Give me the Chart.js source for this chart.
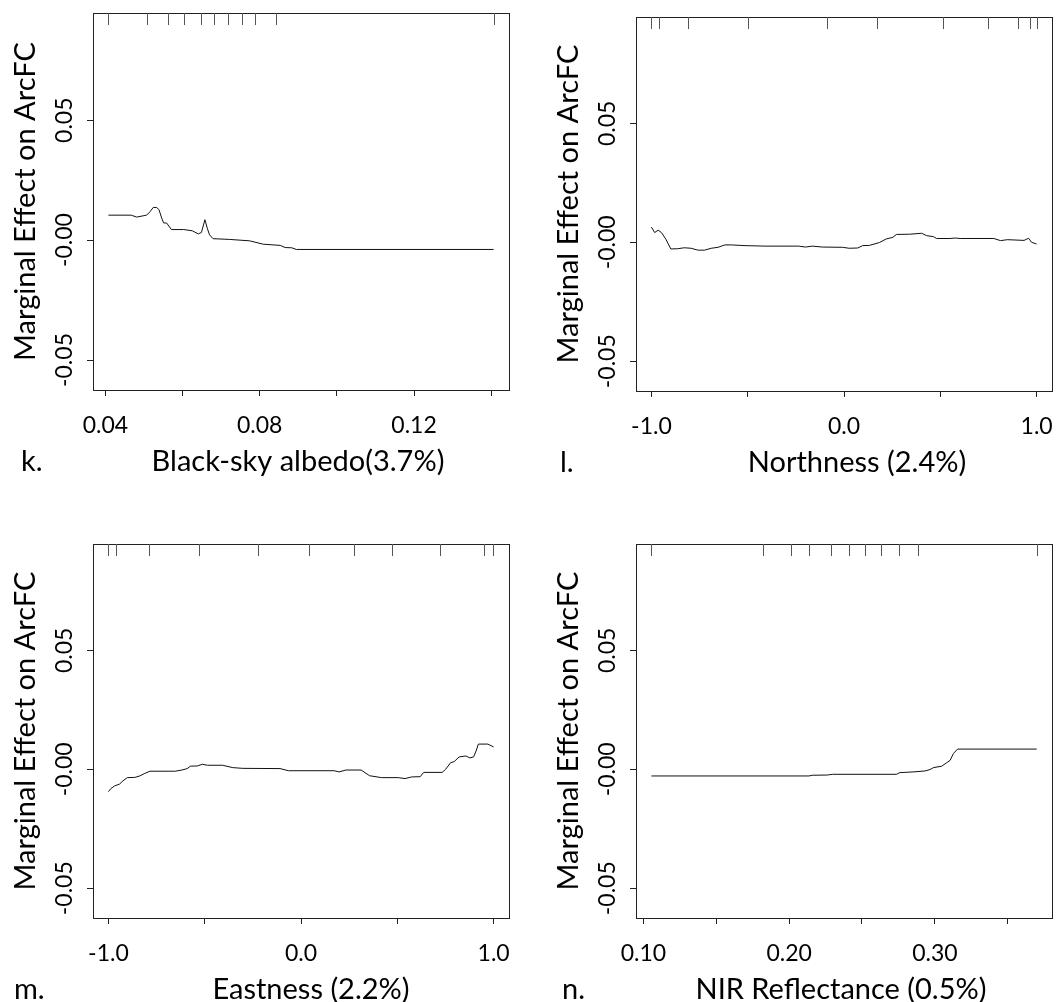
<!DOCTYPE html>
<html>
<head>
<meta charset="utf-8">
<script src="https://cdn.jsdelivr.net/npm/chart.js@4/dist/chart.umd.min.js"></script>
<style>
  html, body { margin: 0; padding: 0; background: #fff; }
  #wrap { position: relative; width: 1058px; height: 1002px; }
  #wrap canvas { position: absolute; left: 0; top: 0; }
</style>
</head>
<body>
<div id="wrap">
  <canvas id="k" width="1058" height="1002"></canvas>
  <canvas id="l" width="1058" height="1002"></canvas>
  <canvas id="m" width="1058" height="1002"></canvas>
  <canvas id="n" width="1058" height="1002"></canvas>
</div>
<script>
// shared y axis
const yTicks = [-0.05, 0, 0.05];
const yTickLabels = ["-0.05", "-0.00", "0.05"];
const yTitle = "Marginal Effect on ArcFC";

// k. black-sky albedo
const albedoX = [0.0408, 0.0467, 0.0481, 0.0507, 0.0516, 0.0524, 0.0533, 0.0539, 0.0546, 0.0551, 0.0559, 0.0571, 0.0603, 0.0625, 0.0641, 0.0649, 0.0658, 0.0664, 0.0670, 0.0679, 0.0721, 0.0774, 0.0809, 0.0853, 0.0866, 0.0883, 0.0895, 0.1406];
const albedoY = [0.0104, 0.0104, 0.0096, 0.0104, 0.0119, 0.0136, 0.0136, 0.0127, 0.0092, 0.0072, 0.0071, 0.0044, 0.0044, 0.0039, 0.0026, 0.0032, 0.0085, 0.0050, 0.0022, 0.0006, 0.0003, -0.0003, -0.0017, -0.0022, -0.0031, -0.0032, -0.0039, -0.0039];
const albedoRug = [0.0408, 0.0508, 0.0562, 0.0604, 0.0647, 0.0682, 0.0718, 0.0753, 0.0788, 0.0841, 0.1408];
const albedoTicks = [0.04, 0.06, 0.08, 0.10, 0.12, 0.14];
const albedoTickLabels = ["0.04", "", "0.08", "", "0.12", ""];

// l. northness
const northX = [-1.000, -0.983, -0.965, -0.948, -0.925, -0.899, -0.864, -0.829, -0.794, -0.759, -0.724, -0.689, -0.654, -0.619, -0.584, -0.514, -0.410, -0.235, -0.200, -0.165, -0.113, -0.008, 0.027, 0.071, 0.097, 0.132, 0.184, 0.219, 0.254, 0.272, 0.341, 0.403, 0.429, 0.464, 0.481, 0.551, 0.577, 0.603, 0.778, 0.813, 0.848, 0.935, 0.958, 0.974, 1.000];
const northY = [0.0064, 0.0041, 0.0051, 0.0041, 0.0013, -0.0028, -0.0027, -0.0023, -0.0025, -0.0033, -0.0033, -0.0025, -0.0021, -0.0011, -0.0011, -0.0014, -0.0016, -0.0016, -0.0020, -0.0016, -0.0020, -0.0021, -0.0025, -0.0024, -0.0014, -0.0013, -0.0001, 0.0014, 0.0021, 0.0033, 0.0034, 0.0038, 0.0028, 0.0024, 0.0016, 0.0016, 0.0018, 0.0016, 0.0016, 0.0007, 0.0011, 0.0008, 0.0017, 0.0000, -0.0007];
const northRug = [-1.0, -0.962, -0.809, -0.499, -0.090, 0.169, 0.516, 0.750, 0.906, 0.966, 1.0];

// m. eastness
const eastX = [-1.000, -0.986, -0.968, -0.942, -0.925, -0.902, -0.863, -0.837, -0.811, -0.784, -0.653, -0.618, -0.591, -0.574, -0.539, -0.512, -0.486, -0.407, -0.354, -0.302, -0.109, -0.065, 0.172, 0.198, 0.233, 0.312, 0.356, 0.418, 0.505, 0.540, 0.575, 0.619, 0.637, 0.733, 0.751, 0.777, 0.795, 0.821, 0.856, 0.877, 0.896, 0.909, 0.921, 0.970, 1.000];
const eastY = [-0.0094, -0.0080, -0.0070, -0.0062, -0.0049, -0.0035, -0.0034, -0.0028, -0.0017, -0.0008, -0.0008, -0.0003, 0.0003, 0.0013, 0.0014, 0.0021, 0.0017, 0.0017, 0.0007, 0.0004, 0.0003, -0.0006, -0.0006, -0.0011, -0.0003, -0.0003, -0.0027, -0.0035, -0.0035, -0.0039, -0.0032, -0.0031, -0.0013, -0.0013, 0.0000, 0.0028, 0.0032, 0.0052, 0.0056, 0.0048, 0.0052, 0.0077, 0.0106, 0.0106, 0.0094];
const eastRug = [-1.0, -0.963, -0.788, -0.530, -0.221, 0.040, 0.275, 0.472, 0.721, 0.949, 0.998];

// n. NIR reflectance
const nirX = [0.1055, 0.2136, 0.2159, 0.2263, 0.2297, 0.2736, 0.2759, 0.2851, 0.2932, 0.2967, 0.2990, 0.3047, 0.3082, 0.3105, 0.3128, 0.3156, 0.3699];
const nirY = [-0.0028, -0.0028, -0.0025, -0.0024, -0.0021, -0.0021, -0.0014, -0.0011, -0.0007, -0.0001, 0.0007, 0.0013, 0.0028, 0.0038, 0.0067, 0.0085, 0.0085];
const nirRug = [0.1055, 0.1819, 0.2013, 0.2138, 0.2286, 0.2413, 0.2524, 0.2630, 0.2752, 0.2884, 0.3699];
const nirTicks = [0.10, 0.15, 0.20, 0.25, 0.30, 0.35];
const nirTickLabels = ["0.10", "", "0.20", "", "0.30", ""];

const aspectTicks = [-1, -0.5, 0, 0.5, 1];
const aspectTickLabels = ["-1.0", "", "0.0", "", "1.0"];

const W = 1058, H = 1002;
const Y_MIN = -0.0625, Y_MAX = 0.0947;
const FONT = "Lato, 'Open Sans', sans-serif";

const panels = [
  { id: "k", letter: "k.", title: "Black-sky albedo(3.7%)", xs: albedoX, ys: albedoY, rug: albedoRug,
    ticks: albedoTicks, tickLabels: albedoTickLabels, xMin: 0.0368, xMax: 0.1446,
    box: { left: 93, top: 13, right: 509, bottom: 390 }, titleX: 298, letterX: 21 },
  { id: "l", letter: "l.", title: "Northness (2.4%)", xs: northX, ys: northY, rug: northRug,
    ticks: aspectTicks, tickLabels: aspectTickLabels, xMin: -1.08, xMax: 1.08,
    box: { left: 636, top: 17, right: 1052, bottom: 391 }, titleX: 857, letterX: 560 },
  { id: "m", letter: "m.", title: "Eastness (2.2%)", xs: eastX, ys: eastY, rug: eastRug,
    ticks: aspectTicks, tickLabels: aspectTickLabels, xMin: -1.08, xMax: 1.08,
    box: { left: 93, top: 544, right: 509, bottom: 918 }, titleX: 311, letterX: 14 },
  { id: "n", letter: "n.", title: "NIR Reflectance (0.5%)", xs: nirX, ys: nirY, rug: nirRug,
    ticks: nirTicks, tickLabels: nirTickLabels, xMin: 0.0949, xMax: 0.3804,
    box: { left: 636, top: 544, right: 1052, bottom: 918 }, titleX: 841, letterX: 562 }
];

function decor(p) {
  return {
    id: "decor",
    afterDraw(chart) {
      const { ctx, chartArea: a, scales: { x, y } } = chart;
      ctx.save();
      // frame
      ctx.strokeStyle = "#222";
      ctx.lineWidth = 1;
      ctx.strokeRect(a.left + 0.5, a.top + 0.5, a.right - a.left, a.bottom - a.top);
      // rug along the top
      ctx.beginPath();
      p.rug.forEach(v => {
        const px = Math.round(x.getPixelForValue(v)) + 0.5;
        ctx.moveTo(px, a.top);
        ctx.lineTo(px, a.top + 12);
      });
      ctx.strokeStyle = "#555";
      ctx.stroke();

      ctx.fillStyle = "#000";
      ctx.font = "23px " + FONT;
      ctx.textAlign = "center";
      ctx.textBaseline = "alphabetic";
      p.ticks.forEach((v, i) => {
        if (p.tickLabels[i]) ctx.fillText(p.tickLabels[i], x.getPixelForValue(v), a.bottom + 43);
      });
      yTicks.forEach((v, i) => {
        ctx.save();
        ctx.translate(a.left - 21, y.getPixelForValue(v));
        ctx.rotate(-Math.PI / 2);
        ctx.fillText(yTickLabels[i], 0, 0);
        ctx.restore();
      });

      ctx.font = "29px " + FONT;
      ctx.fillText(p.title, p.titleX, a.bottom + 81);
      ctx.textAlign = "left";
      ctx.fillText(p.letter, p.letterX, a.bottom + 81);
      ctx.save();
      ctx.translate(a.left - 58, (a.top + a.bottom) / 2);
      ctx.rotate(-Math.PI / 2);
      ctx.textAlign = "center";
      ctx.fillText(yTitle, 0, 0);
      ctx.restore();
      ctx.restore();
    }
  };
}

const tickGrid = { drawOnChartArea: false, drawTicks: true, tickLength: 6, tickColor: "#222", tickWidth: 1 };

panels.forEach(p => {
  new Chart(document.getElementById(p.id), {
    type: "scatter",
    data: {
      datasets: [{
        data: p.xs.map((v, i) => ({ x: v, y: p.ys[i] })),
        showLine: true,
        borderColor: "#111",
        borderWidth: 1,
        pointRadius: 0,
        tension: 0
      }]
    },
    options: {
      responsive: false,
      animation: false,
      events: [],
      layout: { padding: { left: 0, top: p.box.top, right: W - p.box.right, bottom: H - p.box.bottom - 40 } },
      plugins: { legend: { display: false }, tooltip: { enabled: false } },
      scales: {
        x: {
          type: "linear", min: p.xMin, max: p.xMax,
          afterBuildTicks: s => { s.ticks = p.ticks.map(v => ({ value: v })); },
          afterFit: s => { s.height = 40; },
          ticks: { display: false },
          grid: tickGrid,
          border: { display: false }
        },
        y: {
          type: "linear", min: Y_MIN, max: Y_MAX,
          afterBuildTicks: s => { s.ticks = yTicks.map(v => ({ value: v })); },
          afterFit: s => { s.width = p.box.left; },
          ticks: { display: false },
          grid: tickGrid,
          border: { display: false }
        }
      }
    },
    plugins: [decor(p)]
  });
});
</script>
</body>
</html>
